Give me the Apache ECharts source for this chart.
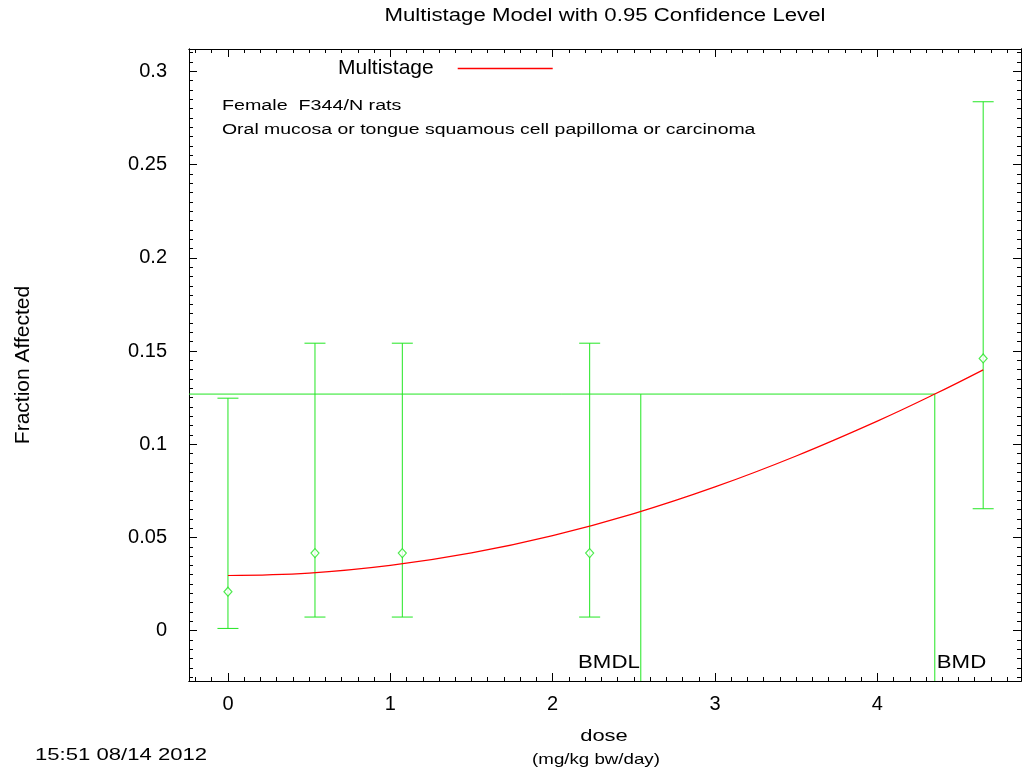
<!DOCTYPE html>
<html>
<head>
<meta charset="utf-8">
<script src="https://cdn.jsdelivr.net/npm/echarts@6/dist/echarts.min.js"></script>
<style>
  html, body { margin: 0; padding: 0; background: #fff; }
  #main { width: 1024px; height: 775px; }
</style>
</head>
<body>
<div id="main"></div>
<script>
// 数据
var doses = [0, 0.536, 1.074, 2.228, 4.652];
var fracMean = [0.0209, 0.0416, 0.0416, 0.0416, 0.146];
var fracLow = [0.0012, 0.0073, 0.0073, 0.0073, 0.0654];
var fracHigh = [0.1247, 0.1542, 0.1542, 0.1542, 0.2837];

// fitted multistage curve, sampled from the plot
var curveDose = [0, 0.5, 1, 1.5, 2, 2.5, 3, 3.5, 4, 4.354, 4.652];
var curveFrac = [0.0296, 0.0309, 0.0350, 0.0417, 0.0510, 0.0628, 0.0771, 0.0937, 0.1124, 0.1269, 0.1399];

var bmr = 0.1269;
var bmd = 4.354;
var bmdl = 2.543;

var xTicks = [0, 1, 2, 3, 4];
var yTicks = [0, 0.05, 0.1, 0.15, 0.2, 0.25, 0.3];

var XMIN = -0.24, XMAX = 4.885;
var YMIN = -0.027, YMAX = 0.312;

var FONT = 'Liberation Sans';
var GREEN = '#22e622';

// minor ticks
var xMinor = [], yMinor = [];
for (var i = -2; i <= 48; i++) { if (i % 10 !== 0) xMinor.push(i / 10); }
for (var j = -5; j <= 62; j++) { if (j % 10 !== 0) yMinor.push(j / 200); }

function xAxisDef(pos, ticks, len, labels) {
    return {
        type: 'value', position: pos, min: XMIN, max: XMAX,
        axisLine: { show: true, onZero: false, lineStyle: { color: '#000', width: 1 } },
        axisTick: { show: true, inside: true, length: len, customValues: ticks, lineStyle: { color: '#000' } },
        axisLabel: labels ? {
            show: true, customValues: xTicks, margin: 13, color: '#000', fontSize: 20, fontFamily: FONT,
            formatter: function(v) { return String(v); }
        } : { show: false },
        splitLine: { show: false }
    };
}
function yAxisDef(pos, ticks, len, labels) {
    return {
        type: 'value', position: pos, min: YMIN, max: YMAX,
        axisLine: { show: true, onZero: false, lineStyle: { color: '#000', width: 1 } },
        axisTick: { show: true, inside: true, length: len, customValues: ticks, lineStyle: { color: '#000' } },
        axisLabel: labels ? {
            show: true, customValues: yTicks, margin: 22, color: '#000', fontSize: 20, fontFamily: FONT,
            formatter: function(v) { return String(Math.round(v * 100) / 100); }
        } : { show: false },
        splitLine: { show: false }
    };
}

var xAxes = [
    xAxisDef('bottom', xTicks, 8, true),
    xAxisDef('bottom', xMinor, 4, false),
    xAxisDef('top', xTicks, 8, false),
    xAxisDef('top', xMinor, 4, false)
];
var yAxes = [
    yAxisDef('left', yTicks, 8, true),
    yAxisDef('left', yMinor, 4, false),
    yAxisDef('right', yTicks, 8, false),
    yAxisDef('right', yMinor, 4, false)
];
yAxes[0].name = 'Fraction Affected';
yAxes[0].nameLocation = 'middle';
yAxes[0].nameRotate = 90;
yAxes[0].nameGap = 155;
yAxes[0].nameTextStyle = { color: '#000', fontSize: 21, fontFamily: FONT };

var errData = [];
var meanData = [];
for (var k = 0; k < doses.length; k++) {
    errData.push([doses[k], fracLow[k], fracHigh[k]]);
    meanData.push([doses[k], fracMean[k]]);
}
var curveData = curveDose.map(function(d, i) { return [d, curveFrac[i]]; });

var chart = echarts.init(document.getElementById('main'));
chart.setOption({
    animation: false,
    backgroundColor: '#fff',
    grid: { left: 189, right: 3, top: 49, bottom: 94, containLabel: false },
    xAxis: xAxes,
    yAxis: yAxes,
    legend: {
        data: ['Multistage'],
        left: 333, top: 53,
        align: 'right',
        icon: 'rect',
        itemWidth: 95, itemHeight: 1.5,
        textStyle: { color: '#000', fontSize: 21, fontFamily: FONT, padding: [0, 19, 0, 0] }
    },
    graphic: [
        { type: 'text', x: 605, y: 16, scaleX: 1.27,
          style: { text: 'Multistage Model with 0.95 Confidence Level', fontSize: 17.5, fontFamily: FONT, fill: '#000', align: 'center', verticalAlign: 'middle' } },
        { type: 'text', x: 222, y: 106, scaleX: 1.27,
          style: { text: 'Female  F344/N rats', fontSize: 15.5, fontFamily: FONT, fill: '#000', align: 'left', verticalAlign: 'middle' } },
        { type: 'text', x: 222, y: 130, scaleX: 1.27,
          style: { text: 'Oral mucosa or tongue squamous cell papilloma or carcinoma', fontSize: 15.3, fontFamily: FONT, fill: '#000', align: 'left', verticalAlign: 'middle' } },
        { type: 'text', x: 604, y: 736, scaleX: 1.29,
          style: { text: 'dose', fontSize: 17, fontFamily: FONT, fill: '#000', align: 'center', verticalAlign: 'middle' } },
        { type: 'text', x: 596, y: 760, scaleX: 1.29,
          style: { text: '(mg/kg bw/day)', fontSize: 14.5, fontFamily: FONT, fill: '#000', align: 'center', verticalAlign: 'middle' } },
        { type: 'text', x: 35, y: 755, scaleX: 1.3,
          style: { text: '15:51 08/14 2012', fontSize: 17, fontFamily: FONT, fill: '#000', align: 'left', verticalAlign: 'middle' } }
    ],
    series: [
        {
            name: 'bmdLines', type: 'line', symbol: 'none', silent: true,
            lineStyle: { color: GREEN, width: 1 },
            data: [[XMIN, bmr], [bmd, bmr], [bmd, YMIN]]
        },
        {
            name: 'bmdlLine', type: 'line', symbol: 'none', silent: true,
            lineStyle: { color: GREEN, width: 1 },
            data: [[bmdl, bmr], [bmdl, YMIN]]
        },
        {
            name: 'errorBars', type: 'custom',
            renderItem: function(params, api) {
                var x = api.value(0);
                var lo = api.coord([x, api.value(1)]);
                var hi = api.coord([x, api.value(2)]);
                var hw = 10.5;
                var st = { stroke: GREEN, lineWidth: 1 };
                return {
                    type: 'group',
                    children: [
                        { type: 'line', shape: { x1: lo[0], y1: lo[1], x2: hi[0], y2: hi[1] }, style: st },
                        { type: 'line', shape: { x1: lo[0] - hw, y1: lo[1], x2: lo[0] + hw, y2: lo[1] }, style: st },
                        { type: 'line', shape: { x1: hi[0] - hw, y1: hi[1], x2: hi[0] + hw, y2: hi[1] }, style: st }
                    ]
                };
            },
            encode: { x: 0, y: [1, 2] },
            data: errData,
            z: 3
        },
        {
            name: 'observed', type: 'scatter', symbol: 'diamond', symbolSize: [8, 9],
            itemStyle: { color: '#fff', borderColor: GREEN, borderWidth: 1.2 },
            data: meanData, z: 4
        },
        {
            name: 'Multistage', type: 'line', symbol: 'none', smooth: 0.4,
            color: '#ff0000',
            lineStyle: { color: '#ff0000', width: 1.2 },
            data: curveData, z: 5
        },
        {
            // BMDL / BMD text next to the vertical lines, near the bottom axis
            name: 'bmdLabels', type: 'custom', silent: true,
            renderItem: function(params, api) {
                var p = api.coord([api.value(0), YMIN]);
                var left = params.dataIndex === 0;
                return {
                    type: 'text',
                    x: p[0] + (left ? -1 : 2), y: p[1] - 18, scaleX: 1.27,
                    style: {
                        text: left ? 'BMDL' : 'BMD',
                        fontSize: 17.5, fontFamily: FONT, fill: '#000',
                        align: left ? 'right' : 'left', verticalAlign: 'middle'
                    }
                };
            },
            data: [[bmdl], [bmd]],
            z: 6
        }
    ]
});
</script>
</body>
</html>
